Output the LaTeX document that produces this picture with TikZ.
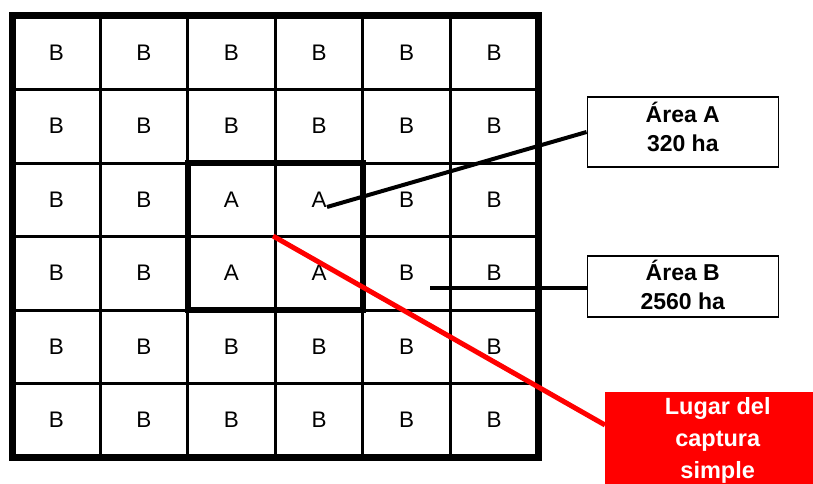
\documentclass[tikz,border=0pt]{standalone}
\usepackage{fontspec}
\setmainfont{Liberation Sans}
\usetikzlibrary{calc}
\begin{document}
\begin{tikzpicture}[x=1pt,y=-1pt,
  cell/.style={font=\fontsize{22.5}{26}\selectfont, inner sep=0pt},
  gridline/.style={line width=3pt},
  labelbox/.style={draw, line width=1.5pt, align=center, inner sep=0pt,
    minimum width=191pt, minimum height=70pt,
    font=\bfseries\fontsize{23}{29.5}\selectfont},
  redbox/.style={fill={rgb,255:red,255;green,0;blue,0}, text=white, align=center, inner sep=0pt,
    minimum width=225pt, minimum height=96pt, anchor=north west,
    font=\bfseries\fontsize{23.5}{32}\selectfont},
  blackline/.style={line width=4pt},
  redline/.style={line width=5pt, draw={rgb,255:red,255;green,0;blue,0}}]
\useasboundingbox (0,0) rectangle (813,484);
% grid lines
\foreach \i in {1,...,5}{
  \draw[gridline] ({12.5+87.58*\i},16) -- ({12.5+87.58*\i},457);
  \draw[gridline] (12.5,{16+73.5*\i}) -- (538,{16+73.5*\i});
}
% inner thick box
\draw[line width=6pt] (187.7,163) rectangle (363,309.5);
% outer box
\draw[line width=7pt] (12.5,16) rectangle (538,457);
% cells
\foreach \r in {0,...,5}{\foreach \c in {0,...,5}{
  \def\t{B}%
  \ifnum\r>1 \ifnum\r<4 \ifnum\c>1 \ifnum\c<4 \def\t{A}\fi\fi\fi\fi
  \node[cell] (c-\r-\c) at ({56.3+87.58*\c},{52.75+73.5*\r}) {\t};
}}
% label boxes
\node[labelbox, text depth=10pt] (boxA) at (682.8,132) {Área A\\320 ha};
\node[labelbox, minimum height=61pt, text depth=4pt] (boxB) at (682.8,286.7) {Área B\\2560 ha};
\node[redbox] (red) at (605,392) {Lugar del\\captura\\simple};
% connectors
\coordinate (pA) at (327,207);
\coordinate (pB) at (430,288);
\coordinate (pR) at (273,236);
\draw[blackline] (pA) -- (boxA.west);
\draw[blackline] (pB) -- (pB -| boxB.west);
\draw[redline] (pR) -- ($(red.north west)+(0,33)$);
\end{tikzpicture}
\end{document}
